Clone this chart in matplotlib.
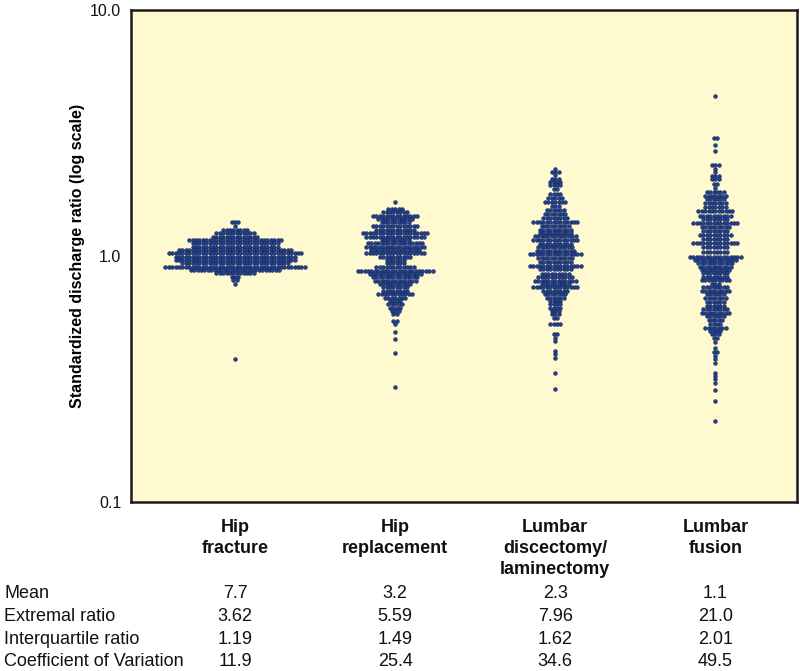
import numpy as np
import matplotlib
matplotlib.use("Agg")
import matplotlib.pyplot as plt

categories = ["Hip\nfracture", "Hip\nreplacement", "Lumbar\ndiscectomy/\nlaminectomy", "Lumbar\nfusion"]

# Row values (standardized discharge ratio) and number of dots in each row
hip_fx_vals = [1.373, 1.330, 1.277, 1.238, 1.199, 1.166, 1.127, 1.091, 1.058, 1.026,
               0.993, 0.963, 0.934, 0.904, 0.877, 0.850, 0.823, 0.798, 0.769, 0.380]
hip_fx_cnts = [3, 1, 8, 12, 14, 28, 26, 26, 34, 40,
               36, 36, 32, 42, 27, 12, 3, 2, 1, 1]

hip_rep_vals = [1.657, 1.555, 1.508, 1.460, 1.416, 1.373, 1.322, 1.277, 1.238, 1.199,
                1.162, 1.127, 1.091, 1.058, 1.026, 0.993, 0.963, 0.934, 0.904, 0.871,
                0.844, 0.819, 0.793, 0.769, 0.745, 0.722, 0.700, 0.678, 0.657, 0.637,
                0.617, 0.598, 0.580, 0.544, 0.528, 0.493, 0.461, 0.405, 0.294]
hip_rep_cnts = [1, 5, 8, 14, 11, 9, 14, 12, 20, 18,
                9, 17, 18, 15, 18, 10, 6, 6, 12, 23,
                16, 14, 13, 10, 8, 8, 11, 7, 4, 5,
                4, 3, 2, 2, 1, 1, 1, 1, 1]

lumb_disc_vals = [2.265, 2.196, 2.127, 2.062, 1.999, 1.936, 1.865, 1.791, 1.720, 1.657,
                  1.595, 1.531, 1.484, 1.425, 1.373, 1.330, 1.280, 1.241, 1.203, 1.162,
                  1.119, 1.085, 1.051, 1.019, 0.981, 0.948, 0.913, 0.885, 0.844, 0.819,
                  0.793, 0.769, 0.745, 0.722, 0.700, 0.678, 0.657, 0.637, 0.617, 0.598,
                  0.580, 0.562, 0.528, 0.480, 0.466, 0.451, 0.411, 0.398, 0.386, 0.335,
                  0.287]
lumb_disc_cnts = [1, 3, 1, 3, 4, 4, 2, 4, 5, 7,
                  3, 6, 7, 8, 14, 9, 10, 10, 13, 14,
                  10, 11, 12, 16, 11, 10, 16, 10, 9, 11,
                  13, 9, 14, 8, 7, 6, 4, 4, 4, 3,
                  3, 2, 4, 2, 1, 1, 1, 1, 1, 1,
                  1]

lumb_fus_vals = [4.486, 3.023, 2.838, 2.665, 2.352, 2.265, 2.196, 2.115, 2.049, 1.967,
                 1.889, 1.820, 1.753, 1.698, 1.641, 1.580, 1.522, 1.460, 1.416, 1.360,
                 1.317, 1.268, 1.218, 1.173, 1.130, 1.085, 1.035, 0.995, 0.963, 0.934,
                 0.904, 0.877, 0.850, 0.823, 0.798, 0.769, 0.745, 0.722, 0.700, 0.674,
                 0.653, 0.627, 0.608, 0.589, 0.571, 0.548, 0.528, 0.512, 0.496, 0.480,
                 0.466, 0.449, 0.424, 0.408, 0.392, 0.380, 0.368, 0.335, 0.325, 0.315,
                 0.305, 0.284, 0.258, 0.214]
lumb_fus_cnts = [1, 2, 1, 1, 3, 1, 1, 3, 3, 2,
                 1, 6, 7, 6, 7, 7, 11, 10, 8, 14,
                 9, 8, 10, 8, 14, 8, 8, 16, 13, 11,
                 10, 9, 8, 8, 9, 3, 8, 9, 6, 7,
                 6, 6, 8, 9, 6, 5, 4, 7, 4, 3,
                 2, 1, 1, 2, 1, 1, 1, 1, 1, 1,
                 1, 1, 1, 1]

row_labels = ["Mean", "Extremal ratio", "Interquartile ratio", "Coefficient of Variation"]
mean_vals = ["7.7", "3.2", "2.3", "1.1"]
extremal_vals = ["3.62", "5.59", "7.96", "21.0"]
iqr_vals = ["1.19", "1.49", "1.62", "2.01"]
cv_vals = ["11.9", "25.4", "34.6", "49.5"]

yticks = [0.1, 1.0, 10.0]
ytick_labels = ["0.1", "1.0", "10.0"]

W, H = 800, 671
fig = plt.figure(figsize=(W / 100, H / 100), dpi=100)
ax_l, ax_r, ax_t, ax_b = 131, 797, 10, 502
ax = fig.add_axes([ax_l / W, 1 - ax_b / H, (ax_r - ax_l) / W, (ax_b - ax_t) / H])
ax.set_facecolor("#fff9cf")
ax.set_yscale("log")
ax.set_ylim(0.1, 10.0)
xlim = (-0.65, 3.51)
ax.set_xlim(*xlim)
px_per_unit = (ax_r - ax_l) / (xlim[1] - xlim[0])
dx = 3.4 / px_per_unit

groups = [(hip_fx_vals, hip_fx_cnts), (hip_rep_vals, hip_rep_cnts),
          (lumb_disc_vals, lumb_disc_cnts), (lumb_fus_vals, lumb_fus_cnts)]
for i, (vals, cnts) in enumerate(groups):
    xs, ys = [], []
    for v, c in zip(vals, cnts):
        off = (np.arange(c) - (c - 1) / 2) * dx
        xs.extend(i + off)
        ys.extend([v] * c)
    ax.scatter(xs, ys, s=7.5, color="#243f86", edgecolors="#13285e",
               linewidths=0.35, zorder=3)

ax.set_yticks(yticks)
ax.set_yticklabels(ytick_labels)
ax.yaxis.set_minor_locator(matplotlib.ticker.NullLocator())
ax.tick_params(axis="y", length=0, pad=7, labelsize=11.5, labelcolor="#111111")
ax.set_xticks([])
for lab in ax.get_yticklabels():
    lab.set_family(["Liberation Sans", "DejaVu Sans"])
for sp in ax.spines.values():
    sp.set_linewidth(1.8)
    sp.set_color("#1a1a1a")
ax.set_ylabel("Standardized discharge ratio (log scale)", fontsize=11.5,
              fontweight="bold", family=["Liberation Sans", "DejaVu Sans"], labelpad=4)

narrow = ["Liberation Sans Narrow", "Liberation Sans", "DejaVu Sans"]
centers_px = [ax_l + (i - xlim[0]) * px_per_unit for i in range(4)]
for cx, cat in zip(centers_px, categories):
    fig.text(cx / W, 1 - 519 / H, cat, ha="center", va="top", fontsize=13,
             fontweight="bold", family=narrow, linespacing=1.32, color="#111111")

rows = [mean_vals, extremal_vals, iqr_vals, cv_vals]
row_y = [594, 616.5, 639, 661.5]
for lab, vals, ry in zip(row_labels, rows, row_y):
    fig.text(4 / W, 1 - ry / H, lab, ha="left", va="center", fontsize=13,
             family=narrow, color="#111111")
    for cx, v in zip(centers_px, vals):
        fig.text(cx / W, 1 - ry / H, v, ha="center", va="center", fontsize=13,
                 family=narrow, color="#111111")

fig.savefig("out.png", dpi=100)
